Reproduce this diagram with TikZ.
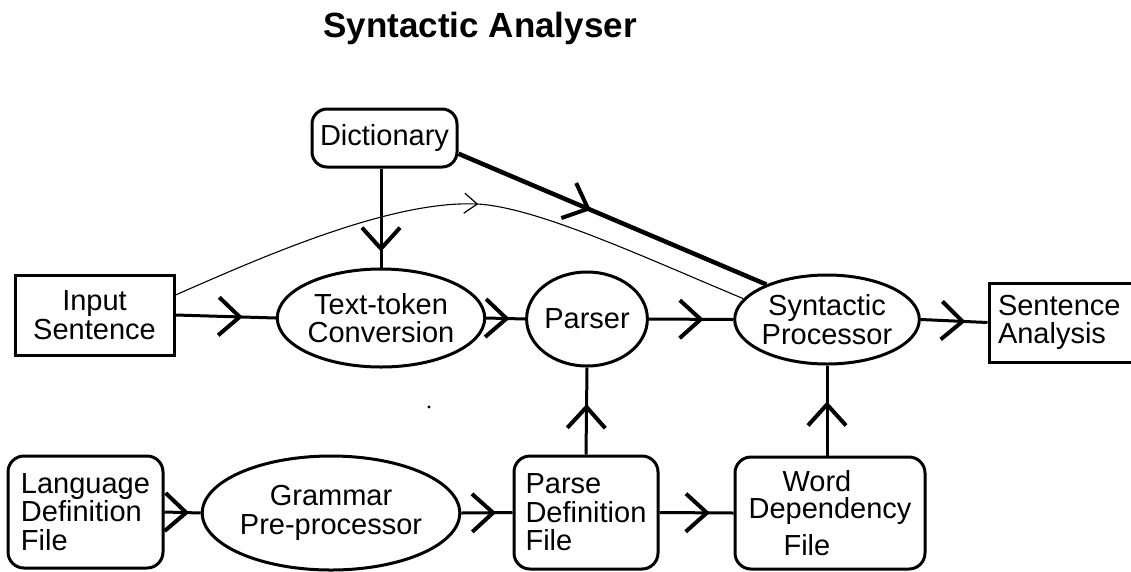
\documentclass[tikz,border=0pt]{standalone}
\usepackage{fontspec}
\setmainfont{Liberation Sans}
\usetikzlibrary{arrows.meta,decorations.markings,shapes.geometric,calc}
\begin{document}
\begin{tikzpicture}[x=1pt,y=-1pt,
  every node/.style={font=\fontsize{29}{28.5}\selectfont, inner sep=0pt, line width=3pt},
  sqbox/.style={draw, rectangle, align=center},
  rbox/.style={draw, rectangle, rounded corners=16pt, align=left},
  ell/.style={draw, ellipse, align=center},
  conn/.style={line width=3pt},
  midarrow/.style={postaction={decorate}, decoration={markings, mark=at position #1 with {\arrow{Straight Barb[length=21pt,width=38pt,line width=4pt]}}}},
  thinarrow/.style={postaction={decorate}, decoration={markings, mark=at position #1 with {\arrow{Straight Barb[length=13pt,width=20pt,line width=1.2pt]}}}},
]
\useasboundingbox (0,0) rectangle (1131,571);
\clip (0,0) rectangle (1131,571);

\node[font=\bfseries\fontsize{35}{40}\selectfont, anchor=base west] (title) at (322,37) {Syntactic Analyser};

\node[rbox, rounded corners=15pt, minimum width=145pt, minimum height=58pt, align=center] (dict) at (384.5,138) {Dictionary};
\node[sqbox, minimum width=159pt, minimum height=80pt] (in) at (94.5,315) {Input\\Sentence};
\node[ell, minimum width=172pt, minimum height=98pt] (tt) at (381,318) {Text-token\\Conversion};
\node[ell, minimum width=92pt, minimum height=94pt] (parser) at (587,319) {Parser};
\node[ell, minimum width=168pt, minimum height=89pt] (syn) at (827,319.5) {Syntactic\\Processor};
\node[sqbox, minimum width=211pt, minimum height=79pt, text width=193pt, align=left] (sa) at (1094.5,322.5) {Sentence\\Analysis};

\node[rbox, minimum width=155pt, minimum height=112pt] (lang) at (85.5,512) {Language\\Definition\\File};
\node[ell, minimum width=218pt, minimum height=114pt] (gram) at (331,513) {Grammar\\Pre-processor};
\node[rbox, minimum width=144pt, minimum height=113pt] (parse) at (586,512.5) {Parse\\Definition\\File};
\node[rbox, minimum width=190pt, minimum height=112pt] (word) at (830,513) {\hspace*{34pt}Word\\[-1.5pt]Dependency\\[8pt]\hspace*{35pt}File};

% connectors
\draw[conn, midarrow=0.67] (in.east) -- (tt.west);
\draw[conn, midarrow=0.6] (tt.east) -- (parser.west);
\draw[conn, midarrow=0.65] (parser.east) -- (syn.west);
\draw[conn, midarrow=0.67] (syn.east) -- (sa.west);
\draw[conn, midarrow=0.84] (tt.north |- dict.south) -- (tt.north);
\draw[conn, midarrow=0.68] (lang.east) -- (gram.west);
\draw[conn, midarrow=0.68] (gram.east) -- (parse.west);
\draw[conn, midarrow=0.68] (parse.east) -- (word.west);
\draw[conn, midarrow=0.58] (parse.north) -- (parser.south);
\draw[conn, midarrow=0.6] (syn.south |- word.north) -- (syn.south);
\draw[line width=4.5pt, midarrow=0.43] (dict.-12) -- (syn.150);
\draw[line width=1.1pt, thinarrow=0.53] ($(in.east)+(0,-20)$) .. controls (260,258) and (390,200) .. (477,204) .. controls (537,207) and (648,259) .. (syn.166);

\fill (429,407) circle (1.6pt);
\end{tikzpicture}
\end{document}
